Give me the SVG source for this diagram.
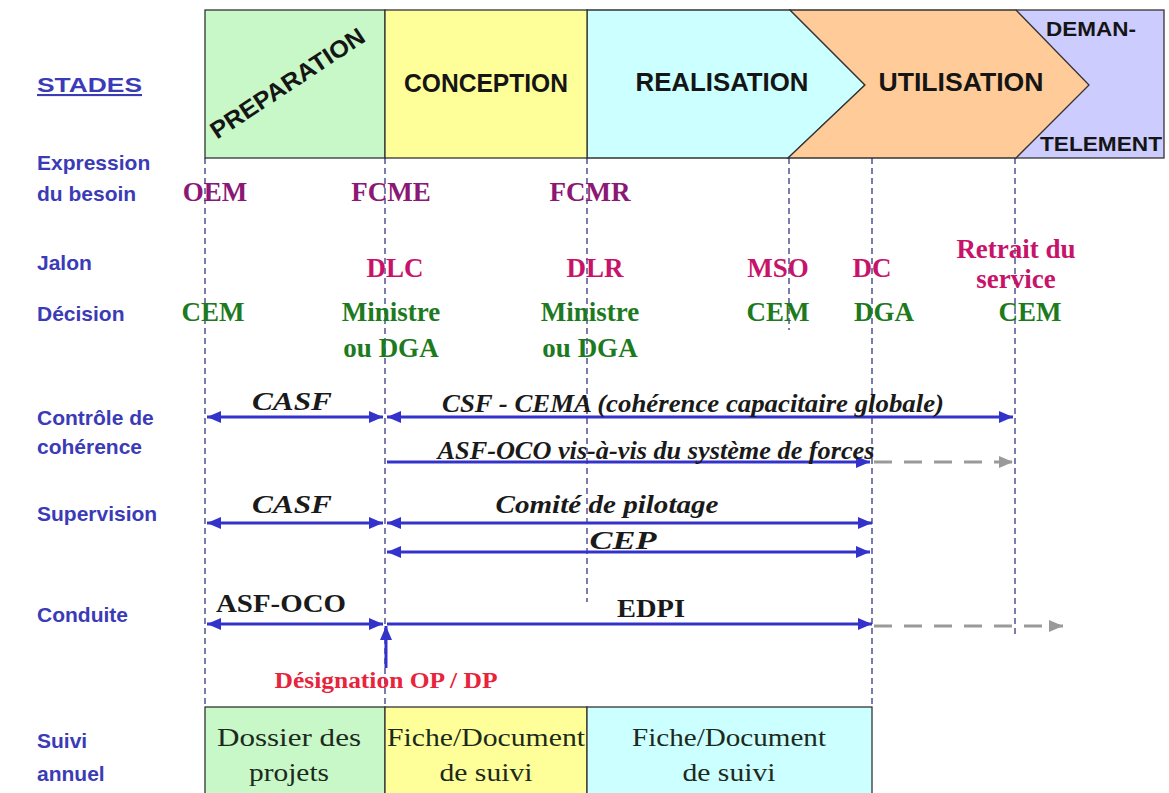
<svg xmlns="http://www.w3.org/2000/svg" width="1169" height="793" viewBox="0 0 1169 793">
<defs>
<style>
.lbl{font-family:"Liberation Sans",Arial,sans-serif;font-weight:bold;font-size:21px;fill:#3B3BB8}
.stage{font-family:"Liberation Sans",Arial,sans-serif;font-weight:bold;fill:#151515;text-anchor:middle}
.ms{font-family:"Liberation Serif","Times New Roman",serif;font-weight:bold;font-size:27px;text-anchor:middle}
.pur{fill:#8A1874}
.mag{fill:#C8136A}
.grn{fill:#1E7A1E}
.al{font-family:"Liberation Serif","Times New Roman",serif;font-weight:bold;font-style:italic;font-size:25px;fill:#1a1a1a;text-anchor:middle}
.ab{font-family:"Liberation Serif","Times New Roman",serif;font-weight:bold;font-size:25px;fill:#1a1a1a;text-anchor:middle}
.red{font-family:"Liberation Serif","Times New Roman",serif;font-weight:bold;font-size:24px;fill:#E8243C;text-anchor:middle}
.doc{font-family:"Liberation Serif","Times New Roman",serif;font-size:26px;fill:#1c2a1c;text-anchor:middle}
.box{stroke:#333;stroke-width:1.3}
.vd{stroke:#25257A;stroke-width:1.2;stroke-dasharray:6 4;fill:none}
.ba{stroke:#3333CC;stroke-width:3;fill:none}
.ga{stroke:#9A9A9A;stroke-width:3;stroke-dasharray:18 12;fill:none}
</style>
<marker id="bh" viewBox="0 0 14 12" refX="14" refY="6" markerWidth="14" markerHeight="12" markerUnits="userSpaceOnUse" orient="auto-start-reverse">
<path d="M0,0 L14,6 L0,12 z" fill="#3333CC"/>
</marker>
<marker id="gh" viewBox="0 0 14 12" refX="14" refY="6" markerWidth="14" markerHeight="12" markerUnits="userSpaceOnUse" orient="auto">
<path d="M0,0 L14,6 L0,12 z" fill="#9A9A9A"/>
</marker>
</defs>
<rect width="1169" height="793" fill="#ffffff"/>

<g id="row-labels">
<text class="lbl" x="37" y="92" font-size="26" textLength="105" lengthAdjust="spacingAndGlyphs" text-decoration="underline">STADES</text>
<text class="lbl" x="37" y="170">Expression</text>
<text class="lbl" x="37" y="201">du besoin</text>
<text class="lbl" x="37" y="270">Jalon</text>
<text class="lbl" x="37" y="321">Décision</text>
<text class="lbl" x="37" y="425">Contrôle de</text>
<text class="lbl" x="37" y="454">cohérence</text>
<text class="lbl" x="37" y="521">Supervision</text>
<text class="lbl" x="37" y="622">Conduite</text>
<text class="lbl" x="37" y="748">Suivi</text>
<text class="lbl" x="37" y="781">annuel</text>
</g>

<g id="stage-demantelement">
<rect class="box" x="1016" y="10" width="148" height="148" fill="#CCCCFF"/>
<text class="stage" x="1091" y="36" font-size="21" textLength="90" lengthAdjust="spacingAndGlyphs">DEMAN-</text>
<text class="stage" x="1101" y="151" font-size="21" textLength="122" lengthAdjust="spacingAndGlyphs">TELEMENT</text>
</g>
<g id="stage-realisation">
<polygon class="box" points="587,10 790,10 865,85 788,158 587,158" fill="#CCFFFF"/>
<text class="stage" x="722" y="91" font-size="25" textLength="173" lengthAdjust="spacingAndGlyphs">REALISATION</text>
</g>
<g id="stage-utilisation">
<polygon class="box" points="790,10 1016,10 1089,85 1016,158 788,158 865,85" fill="#FFCC99"/>
<text class="stage" x="961" y="91" font-size="25" textLength="165" lengthAdjust="spacingAndGlyphs">UTILISATION</text>
</g>
<g id="stage-preparation">
<rect class="box" x="205" y="10" width="180" height="148" fill="#C8F7C8"/>
<text class="stage" x="0" y="0" font-size="24" transform="translate(292,90) rotate(-33.5)" textLength="180" lengthAdjust="spacingAndGlyphs">PREPARATION</text>
</g>
<g id="stage-conception">
<rect class="box" x="385" y="10" width="202" height="148" fill="#FFFF99"/>
<text class="stage" x="486" y="92" font-size="25" textLength="164" lengthAdjust="spacingAndGlyphs">CONCEPTION</text>
</g>

<g id="guides">
<line class="vd" x1="205" y1="158" x2="205" y2="707"/>
<line class="vd" x1="385" y1="158" x2="385" y2="707"/>
<line class="vd" x1="587" y1="158" x2="587" y2="602"/>
<line class="vd" x1="789" y1="158" x2="789" y2="330"/>
<line class="vd" x1="872" y1="158" x2="872" y2="707"/>
<line class="vd" x1="1015" y1="158" x2="1015" y2="637"/>
</g>

<g id="milestones">
<text class="ms pur" x="215" y="201">OEM</text>
<text class="ms pur" x="391" y="201">FCME</text>
<text class="ms pur" x="590" y="201">FCMR</text>
<text class="ms mag" x="395" y="277">DLC</text>
<text class="ms mag" x="595" y="277">DLR</text>
<text class="ms mag" x="778" y="277">MSO</text>
<text class="ms mag" x="872" y="277">DC</text>
<text class="ms mag" x="1016" y="258">Retrait du</text>
<text class="ms mag" x="1016" y="288">service</text>
<text class="ms grn" x="213" y="321">CEM</text>
<text class="ms grn" x="391" y="321">Ministre</text>
<text class="ms grn" x="391" y="357">ou DGA</text>
<text class="ms grn" x="590" y="321">Ministre</text>
<text class="ms grn" x="590" y="357">ou DGA</text>
<text class="ms grn" x="778" y="321">CEM</text>
<text class="ms grn" x="884" y="321">DGA</text>
<text class="ms grn" x="1030" y="321">CEM</text>
</g>

<g id="connectors">
<line class="ba" x1="207" y1="417" x2="383" y2="417" marker-start="url(#bh)" marker-end="url(#bh)"/>
<line class="ba" x1="387" y1="417" x2="1013" y2="417" marker-start="url(#bh)" marker-end="url(#bh)"/>
<line class="ba" x1="387" y1="462" x2="870" y2="462" stroke-width="2.2" marker-end="url(#bh)"/>
<line class="ga" x1="874" y1="462" x2="1013" y2="462" marker-end="url(#gh)"/>
<line class="ba" x1="207" y1="523" x2="383" y2="523" marker-start="url(#bh)" marker-end="url(#bh)"/>
<line class="ba" x1="387" y1="523" x2="872" y2="523" marker-start="url(#bh)" marker-end="url(#bh)"/>
<line class="ba" x1="387" y1="552" x2="870" y2="552" marker-start="url(#bh)" marker-end="url(#bh)"/>
<line class="ba" x1="207" y1="624" x2="383" y2="624" marker-start="url(#bh)" marker-end="url(#bh)"/>
<line class="ba" x1="387" y1="624" x2="872" y2="624" marker-end="url(#bh)"/>
<line class="ga" x1="874" y1="626" x2="1063" y2="626" marker-end="url(#gh)"/>
<line class="ba" x1="386" y1="668" x2="386" y2="626" marker-end="url(#bh)"/>
</g>

<g id="connector-labels">
<text class="al" x="292" y="410" textLength="80" lengthAdjust="spacingAndGlyphs">CASF</text>
<text class="al" x="693" y="412" textLength="502" lengthAdjust="spacingAndGlyphs">CSF - CEMA (cohérence capacitaire globale)</text>
<text class="al" x="656" y="459" textLength="437" lengthAdjust="spacingAndGlyphs">ASF-OCO  vis-à-vis du système de forces</text>
<text class="al" x="292" y="513" textLength="80" lengthAdjust="spacingAndGlyphs">CASF</text>
<text class="al" x="607" y="513" textLength="223" lengthAdjust="spacingAndGlyphs">Comité de pilotage</text>
<text class="al" x="623" y="549" textLength="67" lengthAdjust="spacingAndGlyphs">CEP</text>
<text class="ab" x="281" y="612" textLength="130" lengthAdjust="spacingAndGlyphs">ASF-OCO</text>
<text class="ab" x="651" y="617" textLength="68" lengthAdjust="spacingAndGlyphs">EDPI</text>
<text class="red" x="386" y="688" textLength="223" lengthAdjust="spacingAndGlyphs">Désignation OP / DP</text>
</g>

<g id="suivi-preparation">
<rect class="box" x="205" y="707" width="180" height="95" fill="#C8F7C8"/>
<text class="doc" x="289" y="746" textLength="144" lengthAdjust="spacingAndGlyphs">Dossier des</text>
<text class="doc" x="289" y="781" textLength="80" lengthAdjust="spacingAndGlyphs">projets</text>
</g>
<g id="suivi-conception">
<rect class="box" x="385" y="707" width="202" height="95" fill="#FFFF99"/>
<text class="doc" x="486" y="746" textLength="198" lengthAdjust="spacingAndGlyphs">Fiche/Document</text>
<text class="doc" x="486" y="781" textLength="93" lengthAdjust="spacingAndGlyphs">de suivi</text>
</g>
<g id="suivi-realisation">
<rect class="box" x="587" y="707" width="285" height="95" fill="#CCFFFF"/>
<text class="doc" x="729" y="746" textLength="194" lengthAdjust="spacingAndGlyphs">Fiche/Document</text>
<text class="doc" x="729" y="781" textLength="93" lengthAdjust="spacingAndGlyphs">de suivi</text>
</g>
</svg>
